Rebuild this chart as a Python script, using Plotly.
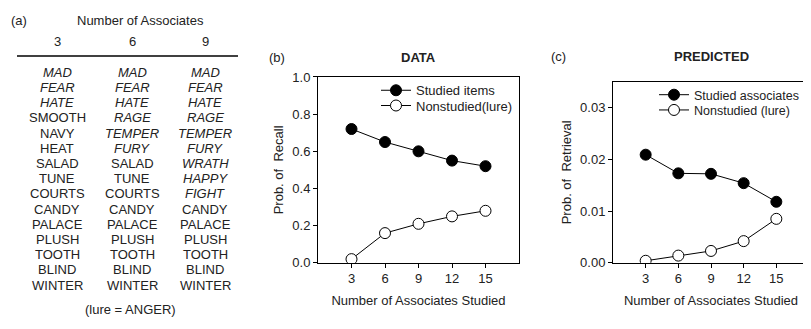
import plotly.graph_objects as go

# page is drawn with an 8px body margin
OX, OY = 8, 8
FW, FH = 803, 321
def px(x): return (x - OX) / FW
def py(y): return 1 - (y - OY) / FH

# ---------- data ----------
n_assoc = [3, 6, 9, 12, 15]
data_studied = [0.72, 0.65, 0.60, 0.55, 0.52]
data_lure = [0.02, 0.16, 0.21, 0.25, 0.28]
pred_studied = [0.0209, 0.0173, 0.0172, 0.0154, 0.0118]
pred_lure = [0.0004, 0.0014, 0.0023, 0.0042, 0.0085]

table_headers = [3, 6, 9]
col_3 = ["MAD", "FEAR", "HATE", "SMOOTH", "NAVY", "HEAT", "SALAD", "TUNE", "COURTS",
         "CANDY", "PALACE", "PLUSH", "TOOTH", "BLIND", "WINTER"]
col_6 = ["MAD", "FEAR", "HATE", "RAGE", "TEMPER", "FURY", "SALAD", "TUNE", "COURTS",
         "CANDY", "PALACE", "PLUSH", "TOOTH", "BLIND", "WINTER"]
col_9 = ["MAD", "FEAR", "HATE", "RAGE", "TEMPER", "FURY", "WRATH", "HAPPY", "FIGHT",
         "CANDY", "PALACE", "PLUSH", "TOOTH", "BLIND", "WINTER"]
columns = [col_3, col_6, col_9]

FONT = "Liberation Sans, Arial, sans-serif"
fig = go.Figure()

def add_series(x, y, name, fill, xa, ya, leg):
    fig.add_trace(go.Scatter(x=x, y=y, mode="lines+markers", name=name,
                             xaxis=xa, yaxis=ya, legend=leg,
                             line=dict(color="black", width=1),
                             marker=dict(size=11, color=fill, line=dict(color="black", width=1))))

add_series(n_assoc, data_studied, "Studied items", "black", "x", "y", "legend")
add_series(n_assoc, data_lure, "Nonstudied(lure)", "white", "x", "y", "legend2")
add_series(n_assoc, pred_studied, "Studied associates", "black", "x2", "y2", "legend3")
add_series(n_assoc, pred_lure, "Nonstudied (lure)", "white", "x2", "y2", "legend4")

ax_common = dict(showline=True, mirror=True, linecolor="black", linewidth=1,
                 ticks="outside", ticklen=4, tickcolor="black", showgrid=False, zeroline=False,
                 tickfont=dict(size=13, color="#222"))

def leg(x, y, size=13):
    return dict(x=px(x), y=py(y), xanchor="left", yanchor="middle", bgcolor="rgba(0,0,0,0)",
                font=dict(size=size, color="#222"), itemwidth=30)

fig.update_layout(
    width=FW, height=FH, margin=dict(l=0, r=0, t=0, b=0),
    paper_bgcolor="white", plot_bgcolor="white",
    font=dict(family=FONT, color="#222", size=13),
    xaxis=dict(domain=[px(318), px(519)], range=[0, 18], tickvals=n_assoc, anchor="y",
               title=dict(text="Number of Associates Studied", font=dict(size=13), standoff=10), **ax_common),
    yaxis=dict(domain=[py(268), py(73)], range=[0, 1.0], dtick=0.2, tickformat=".1f", anchor="x",
               title=dict(text="Prob. of  Recall", font=dict(size=13), standoff=5), **ax_common),
    xaxis2=dict(domain=[px(613), px(809)], range=[0, 18], tickvals=n_assoc, anchor="y2",
                title=dict(text="Number of Associates Studied", font=dict(size=13), standoff=10), **ax_common),
    yaxis2=dict(domain=[py(268), py(78)], range=[0, 0.035], tickvals=[0, 0.01, 0.02, 0.03],
                tickformat=".2f", anchor="x2",
                title=dict(text="Prob. of  Retrieval", font=dict(size=13), standoff=5), **ax_common),
    legend=leg(376, 87), legend2=leg(376, 103),
    legend3=leg(654, 92, 12.5), legend4=leg(654, 108, 12.5),
    showlegend=True,
)

ann = []
def text(x, y, t, size=13, xanchor="center", bold=False):
    if bold:
        t = "<b>" + t + "</b>"
    ann.append(dict(x=px(x), y=py(y), xref="paper", yref="paper", text=t, showarrow=False,
                    xanchor=xanchor, yanchor="middle", font=dict(size=size, family=FONT, color="#222")))

# panel titles
text(277, 53, "(b)", 13)
text(418, 53, "DATA", 13, bold=True)
text(558, 52, "(c)", 13)
text(711, 52, "PREDICTED", 13, bold=True)

# table (a)
text(8.5, 14, "(a)", 13, xanchor="left")
text(140, 14, "Number of Associates", 13)
col_x = [57, 132, 205]
for cx, hdr, words in zip(col_x, table_headers, columns):
    text(cx, 36, str(hdr), 13)
    for i, w in enumerate(words):
        t = "<i>" + w + "</i>" if i < hdr else w
        text(cx, 68 + i * 15.95, t, 13)
text(130, 317, "(lure = ANGER)", 13)

fig.update_layout(annotations=ann,
                  shapes=[dict(type="line", xref="paper", yref="paper", x0=px(17), x1=px(238),
                               y0=py(51), y1=py(51), line=dict(color="black", width=1.5))])

fig.write_html("out.html")
